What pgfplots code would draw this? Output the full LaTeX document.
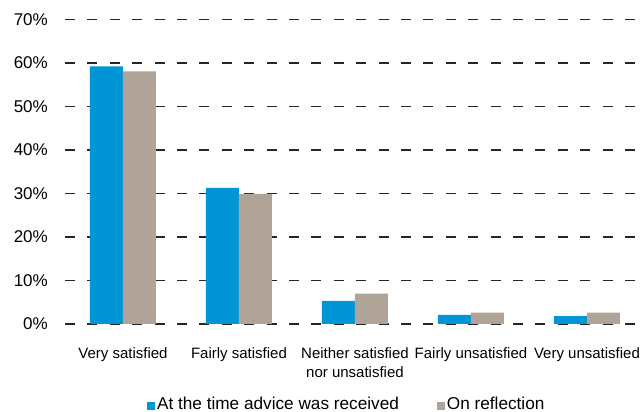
\documentclass[border=0pt]{standalone}
\usepackage{fontspec}
\setmainfont{Liberation Sans}
\usepackage{pgfplots}
\pgfplotsset{compat=1.18}
\definecolor{cblue}{RGB}{0,150,214}
\definecolor{cgray}{RGB}{176,164,152}
\begin{document}
\begin{tikzpicture}[x=1pt,y=1pt]
\useasboundingbox (-65,-88) rectangle (575,324);
\begin{axis}[
  at={(0,0)}, anchor=south west,
  scale only axis, width=575pt, height=304.5pt,
  xmin=-0.5, xmax=4.457, ymin=0, ymax=70,
  ybar=0pt, bar width=33pt,
  axis line style={draw=none},
  major tick length=0pt,
  ytick={0,10,...,70},
  ymajorgrids,
  grid style={draw=black!85, line width=1.25pt, dash pattern=on 10pt off 12.4pt},
  /pgf/number format/assume math mode=true,
  yticklabel={\pgfmathprintnumber{\tick}\%},
  yticklabel style={font=\fontsize{17}{20}\selectfont, inner sep=0pt, xshift=-17pt},
  xtick={0,1,2,3,4},
  xticklabels={Very satisfied, Fairly satisfied, {Neither satisfied\\nor unsatisfied}, Fairly unsatisfied, Very unsatisfied},
  xticklabel style={font=\fontsize{15}{19.5}\selectfont, align=center, anchor=north, inner sep=0pt, yshift=-23pt},
  legend style={at={(0.49,-0.292)}, anchor=south, draw=none, legend columns=2,
    font=\fontsize{17.2}{20}\selectfont, inner sep=0pt,
    /tikz/every even column/.append style={column sep=36pt}},
  legend image code/.code={\fill[#1] (0pt,-6pt) rectangle (8pt,2pt);},
]
\addplot[fill=cblue, draw=none] coordinates {(0,59.2) (1,31.3) (2,5.3) (3,2.1) (4,1.8)};
\addplot[fill=cgray, draw=none] coordinates {(0,58.1) (1,29.9) (2,7.0) (3,2.6) (4,2.6)};
\legend{At the time advice was received, On reflection}
\end{axis}
\end{tikzpicture}
\end{document}
